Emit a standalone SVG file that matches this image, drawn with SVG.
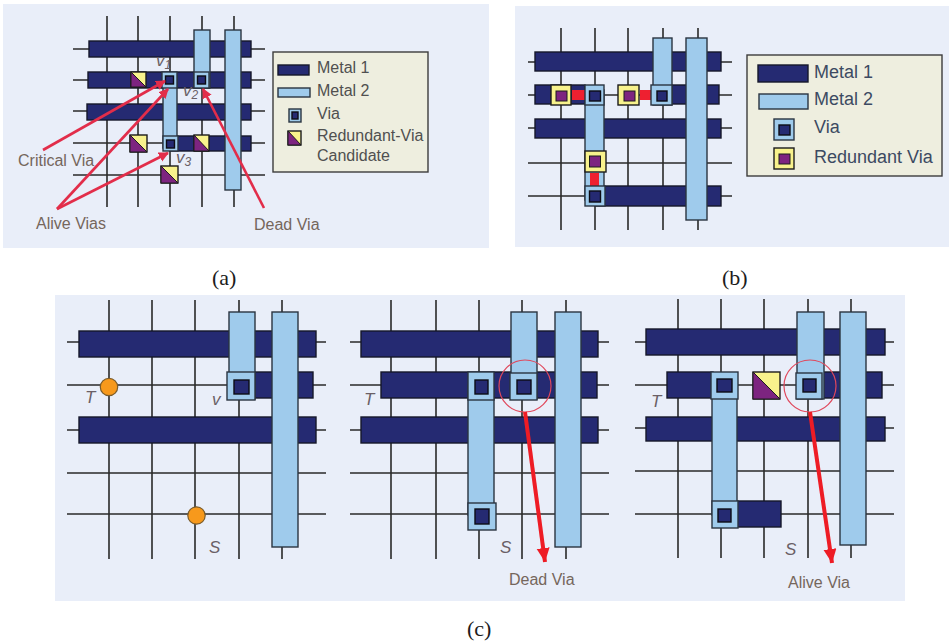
<svg xmlns="http://www.w3.org/2000/svg" width="949" height="644" viewBox="0 0 949 644">
<defs>
<style>
.bg{fill:#e9eef9}
.grid{stroke:#2a2a2a;stroke-width:1.6;fill:none}
.m1{fill:#252a72;stroke:#15182a;stroke-width:1.4}
.m2{fill:#9fcbec;stroke:#2a3440;stroke-width:1.4}
.in{fill:#252a72;stroke:#0c0c14;stroke-width:1.4}
.y{fill:#f8f28c;stroke:#1c1c1c;stroke-width:1.4}
.p{fill:#7d2480;stroke:#1c1c1c;stroke-width:1}
.leg{fill:#eeeedf;stroke:#3c3c3c;stroke-width:1.4}
.t{font-family:"Liberation Sans",Arial,sans-serif;font-size:16px;fill:#505050}
.tb{font-family:"Liberation Sans",Arial,sans-serif;font-size:18px;fill:#3c4a62}
.lab{font-family:"Liberation Sans",Arial,sans-serif;font-size:16px;fill:#75665c}
.it{font-family:"Liberation Sans",Arial,sans-serif;font-size:17px;font-style:italic;fill:#6a5f66}
.cap{font-family:"Liberation Serif","Times New Roman",serif;font-size:22px;fill:#1c1c1c}
.ra{stroke:#e22d4a;stroke-width:2.6;fill:none}
.rc{stroke:#ee1c25;stroke-width:4;fill:none}
.ring{stroke:#e0485c;stroke-width:1.2;fill:none}
.dot{fill:#f7991c;stroke:#7a5c2c;stroke-width:1.2}
</style>
<marker id="ah" markerUnits="userSpaceOnUse" markerWidth="12" markerHeight="12" refX="9" refY="5" orient="auto"><path d="M0 0L10 5L0 10Z" fill="#e22d4a"/></marker>
<marker id="ahc" markerUnits="userSpaceOnUse" markerWidth="16" markerHeight="14" refX="14" refY="6.5" orient="auto"><path d="M0 0L14 6.5L0 13Z" fill="#ee1c25"/></marker>
</defs>

<rect class="bg" x="3" y="4" width="486" height="244"/>
<rect class="bg" x="515" y="6" width="434" height="241"/>
<rect class="bg" x="55" y="295" width="850" height="306"/>

<g id="panel-a">
<path class="grid" d="M107 16V207M138 16V207M170 16V207M202 16V207M234 16V207M73 49H265M73 80H265M73 111H265M73 143H265M73 175H265"/>
<g id="a-metal1">
<rect class="m1" x="89" y="41" width="162" height="16"/>
<rect class="m1" x="88" y="72" width="163" height="16"/>
<rect class="m1" x="87" y="104" width="164" height="16"/>
<rect class="m1" x="170" y="136" width="81" height="15"/>
</g>
<g id="a-metal2">
<rect class="m2" x="194" y="30" width="16" height="58"/>
<rect class="m2" x="225" y="30" width="16" height="160"/>
<rect class="m2" x="163" y="76" width="14" height="72"/>
</g>
<g id="a-via-v1"><rect class="m2" x="162" y="72" width="15" height="16"/><rect class="in" x="165.500" y="76" width="8" height="8"/></g>
<g id="a-via-v2"><rect class="m2" x="194" y="72" width="15" height="16"/><rect class="in" x="197.500" y="76" width="8" height="8"/></g>
<g id="a-via-v3"><rect class="m2" x="163" y="136" width="15" height="15"/><rect class="in" x="166.500" y="140" width="8" height="8"/></g>
<g id="a-cand1"><rect class="y" x="131" y="72" width="15" height="15"/><path class="p" d="M131 72L146 87H131Z"/></g>
<g id="a-cand2"><rect class="y" x="130" y="135" width="17" height="17"/><path class="p" d="M130 135L147 152H130Z"/></g>
<g id="a-cand3"><rect class="y" x="194" y="135" width="15" height="16"/><path class="p" d="M194 135L209 151H194Z"/></g>
<g id="a-cand4"><rect class="y" x="161" y="166" width="17" height="17"/><path class="p" d="M161 166L178 183H161Z"/></g>
<g id="a-connectors">
<line class="ra" x1="43" y1="150" x2="165" y2="81" marker-end="url(#ah)"/>
<line class="ra" x1="57" y1="209" x2="168" y2="89" marker-end="url(#ah)"/>
<line class="ra" x1="57" y1="209" x2="168" y2="153" marker-end="url(#ah)"/>
<line class="ra" x1="264" y1="208" x2="203" y2="89" marker-end="url(#ah)"/>
</g>
<text class="it" x="156" y="66">v<tspan font-size="12" dy="3">1</tspan></text>
<text class="it" x="183" y="96">v<tspan font-size="12" dy="3">2</tspan></text>
<text class="it" x="176" y="163">v<tspan font-size="12" dy="3">3</tspan></text>
<text class="lab" x="18" y="166">Critical Via</text>
<text class="lab" x="36" y="229">Alive Vias</text>
<text class="lab" x="254" y="230">Dead Via</text>
<g id="a-legend">
<rect class="leg" x="273" y="52" width="155" height="120"/>
<rect class="m1" x="278" y="65" width="31" height="10"/>
<rect class="m2" x="278" y="88" width="32" height="9"/>
<rect class="m2" x="289" y="109" width="12" height="13"/><rect class="in" x="292" y="112" width="6" height="7"/>
<rect class="y" x="288" y="131" width="13" height="14"/><path class="p" d="M288 131L301 145H288Z"/>
<text class="t" x="317" y="73">Metal 1</text>
<text class="t" x="317" y="96">Metal 2</text>
<text class="t" x="317" y="119">Via</text>
<text class="t" x="317" y="141">Redundant-Via</text>
<text class="t" x="317" y="161">Candidate</text>
</g>
</g>

<g id="panel-b">
<path class="grid" d="M561 28V230M595 28V230M628 28V230M663 28V230M698 28V230M528 62H732M528 95H732M528 128H732M528 163H732M528 196H732"/>
<g id="b-metal1">
<rect class="m1" x="535" y="52" width="186" height="19"/>
<rect class="m1" x="535" y="85" width="50" height="19"/>
<rect class="m1" x="660" y="85" width="59" height="19"/>
<rect class="m1" x="535" y="119" width="186" height="19"/>
<rect class="m1" x="595" y="186" width="126" height="20"/>
</g>
<g id="b-metal2">
<rect class="m2" x="653" y="38" width="19" height="67"/>
<rect class="m2" x="686" y="38" width="21" height="182"/>
<rect class="m2" x="585" y="90" width="19" height="110"/>
</g>
<rect x="572" y="90" width="13" height="10" fill="#ee2030"/>
<rect x="640" y="90" width="11" height="10" fill="#ee2030"/>
<rect x="590" y="173" width="9" height="13" fill="#ee2030"/>
<g id="b-via1"><rect class="m2" x="585" y="85" width="19" height="20"/><rect class="in" x="589.500" y="91" width="11" height="10"/></g>
<g id="b-via2"><rect class="m2" x="651" y="85" width="21" height="20"/><rect class="in" x="657" y="91" width="10" height="10"/></g>
<g id="b-via3"><rect class="m2" x="585" y="186" width="20" height="20"/><rect class="in" x="589.500" y="191" width="11" height="11"/></g>
<g id="b-red1"><rect class="y" x="551" y="85" width="20" height="20"/><rect class="p" x="556" y="91" width="11" height="10"/></g>
<g id="b-red2"><rect class="y" x="618" y="85" width="21" height="20"/><rect class="p" x="624" y="91" width="11" height="10"/></g>
<g id="b-red3"><rect class="y" x="585" y="151" width="21" height="21"/><rect class="p" x="589.500" y="156" width="11" height="11"/></g>
<g id="b-legend">
<rect class="leg" x="747" y="55" width="195" height="121"/>
<rect class="m1" x="758" y="65" width="50" height="17"/>
<rect class="m2" x="759" y="94" width="49" height="15"/>
<rect class="m2" x="774" y="119" width="20" height="21"/><rect class="in" x="779" y="125" width="11" height="10"/>
<rect class="y" x="774" y="148" width="20" height="21"/><rect class="p" x="779" y="154" width="11" height="10"/>
<text class="tb" x="814" y="78">Metal 1</text>
<text class="tb" x="814" y="105">Metal 2</text>
<text class="tb" x="814" y="133">Via</text>
<text class="tb" x="814" y="163">Redundant Via</text>
</g>
</g>

<g id="panel-c1">
<path class="grid" d="M109 300V559M152 300V559M195 300V559M239 300V559M282 300V559M67 342H326M67 385H326M67 430H326M67 473H326M67 514H326"/>
<rect class="m1" x="79" y="331" width="237" height="26"/>
<rect class="m1" x="240" y="372" width="73" height="26"/>
<rect class="m1" x="79" y="417" width="237" height="26"/>
<rect class="m2" x="229" y="312" width="26" height="87"/>
<rect class="m2" x="272" y="312" width="26" height="235"/>
<g id="c1-via"><rect class="m2" x="227" y="372" width="28" height="28"/><rect class="in" x="234" y="380" width="15" height="14"/></g>
<circle id="c1-T" class="dot" cx="109" cy="387" r="8.700"/>
<circle id="c1-S" class="dot" cx="196.500" cy="515.500" r="8.700"/>
<text class="it" x="85" y="403">T</text>
<text class="it" x="212" y="405">v</text>
<text class="it" x="209" y="553">S</text>
</g>

<g id="panel-c2">
<path class="grid" d="M391 300V559M436 300V559M479 300V559M522 300V559M566 300V559M350 342H609M350 385H609M350 430H609M350 473H609M350 514H609"/>
<rect class="m1" x="361" y="331" width="237" height="26"/>
<rect class="m1" x="381" y="372" width="216" height="26"/>
<rect class="m1" x="361" y="417" width="237" height="26"/>
<rect class="m2" x="511" y="312" width="26" height="87"/>
<rect class="m2" x="555" y="312" width="26" height="235"/>
<rect class="m2" x="468" y="385" width="26" height="130"/>
<g id="c2-via1"><rect class="m2" x="468" y="372" width="26" height="28"/><rect class="in" x="475" y="380" width="13" height="14"/></g>
<g id="c2-via2"><rect class="m2" x="510" y="373" width="27" height="27"/><rect class="in" x="517" y="380" width="14" height="14"/></g>
<g id="c2-via3"><rect class="m2" x="468" y="503" width="28" height="27"/><rect class="in" x="475" y="509" width="14" height="15"/></g>
<circle class="ring" cx="525" cy="386" r="26"/>
<g id="c2-connectors"><line class="rc" x1="525" y1="412" x2="545" y2="562" marker-end="url(#ahc)"/></g>
<text class="it" x="364" y="405">T</text>
<text class="it" x="500" y="553">S</text>
<text class="lab" x="509" y="585">Dead Via</text>
</g>

<g id="panel-c3">
<path class="grid" d="M678 299V558M721 299V558M764 299V558M808 299V558M851 299V558M635 342H894M635 385H894M635 428H894M635 471H894M635 514H894"/>
<rect class="m1" x="646" y="329" width="239" height="26"/>
<rect class="m1" x="667" y="372" width="46" height="26"/>
<rect class="m1" x="823" y="372" width="59" height="26"/>
<rect class="m1" x="646" y="417" width="239" height="24"/>
<rect class="m1" x="730" y="501" width="51" height="26"/>
<rect class="m2" x="797" y="312" width="27" height="87"/>
<rect class="m2" x="840" y="312" width="26" height="233"/>
<rect class="m2" x="712" y="385" width="25" height="130"/>
<g id="c3-via1"><rect class="m2" x="711" y="372" width="27" height="27"/><rect class="in" x="717" y="379" width="15" height="13"/></g>
<g id="c3-via2"><rect class="m2" x="796" y="373" width="26" height="26"/><rect class="in" x="803" y="379" width="13" height="13"/></g>
<g id="c3-via3"><rect class="m2" x="712" y="501" width="26" height="27"/><rect class="in" x="718" y="509" width="13" height="13"/></g>
<g id="c3-cand"><rect class="y" x="753" y="372" width="27" height="27"/><path class="p" d="M753 372L780 399H753Z"/></g>
<circle class="ring" cx="810" cy="386" r="26"/>
<g id="c3-connectors"><line class="rc" x1="810" y1="412" x2="832" y2="563" marker-end="url(#ahc)"/></g>
<text class="it" x="651" y="407">T</text>
<text class="it" x="785" y="555">S</text>
<text class="lab" x="788" y="588">Alive Via</text>
</g>

<text class="cap" x="212" y="285">(a)</text>
<text class="cap" x="722" y="285">(b)</text>
<text class="cap" x="467" y="636">(c)</text>
</svg>
